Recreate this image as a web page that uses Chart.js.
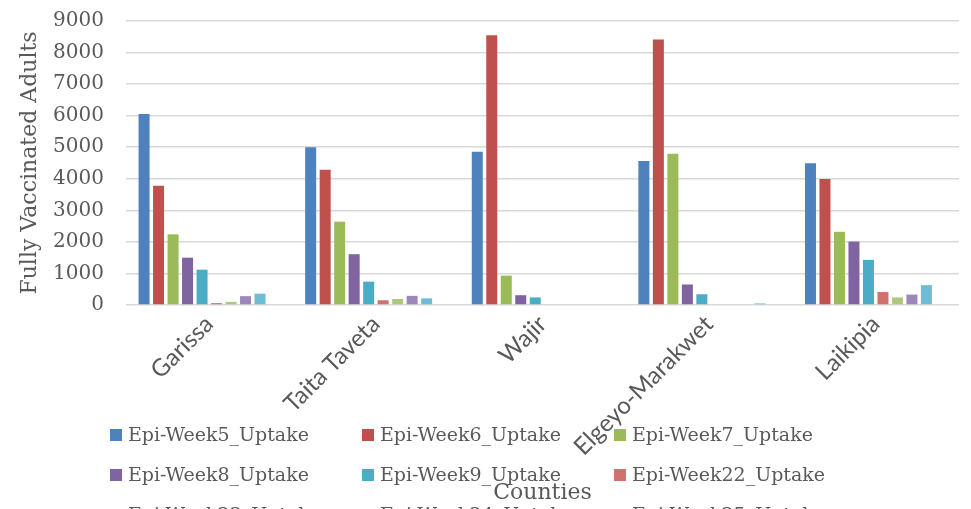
<!DOCTYPE html>
<html>
<head>
<meta charset="utf-8">
<script src="https://cdn.jsdelivr.net/npm/chart.js@4.4.1/dist/chart.umd.min.js"></script>
<style>
  html, body { margin: 0; padding: 0; background: #fff; }
  #wrap { width: 971px; height: 509px; }
</style>
</head>
<body>
<div id="wrap"><canvas id="chart" width="971" height="509"></canvas></div>
<script>
const counties = ["Garissa", "Taita Taveta", "Wajir", "Elgeyo-Marakwet", "Laikipia"];

const week5 = [6050, 5000, 4860, 4560, 4490];
const week6 = [3780, 4290, 8550, 8410, 3990];
const week7 = [2240, 2640, 930, 4790, 2320];
const week8 = [1500, 1610, 310, 650, 2010];
const week9 = [1120, 740, 240, 340, 1430];
const week22 = [60, 150, 0, 0, 410];
const week23 = [100, 190, 0, 0, 240];
const week24 = [280, 290, 0, 0, 330];
const week25 = [360, 210, 0, 50, 630];
const week26 = [0, 0, 0, 0, 0];

const yTicks = [0, 1000, 2000, 3000, 4000, 5000, 6000, 7000, 8000, 9000];

const seriesNames = [
  "Epi-Week5_Uptake", "Epi-Week6_Uptake", "Epi-Week7_Uptake",
  "Epi-Week8_Uptake", "Epi-Week9_Uptake", "Epi-Week22_Uptake",
  "Epi-Week23_Uptake", "Epi-Week24_Uptake", "Epi-Week25_Uptake",
  "Epi-Week26_Uptake",
];
const seriesData = [week5, week6, week7, week8, week9, week22, week23, week24, week25, week26];
const seriesColors = [
  "#4f81bd", "#c0504d", "#9bbb59", "#8064a2", "#4bacc6",
  "#cf716e", "#afc97b", "#9c87b9", "#6fbdd4", "#f79646",
];

const textColor = "#595959";
const serif = "'DejaVu Serif', serif";

// Excel-style legend in a fixed 3-column grid, drawn over the chart
const gridLegend = {
  id: "gridLegend",
  afterDraw(chart) {
    const ctx = chart.ctx;
    ctx.save();
    ctx.font = `19px ${serif}`;
    ctx.textBaseline = "middle";
    chart.data.datasets.forEach((ds, i) => {
      const col = i % 3;
      const row = Math.floor(i / 3);
      const x = 110 + col * 252;
      const y = 435 + row * 40;
      ctx.fillStyle = ds.backgroundColor;
      ctx.fillRect(x, y - 6, 12, 12);
      ctx.fillStyle = textColor;
      ctx.fillText(ds.label, x + 18, y + 1);
    });
    ctx.restore();
  },
};

new Chart(document.getElementById("chart").getContext("2d"), {
  type: "bar",
  data: {
    labels: counties,
    datasets: seriesNames.map((name, i) => ({
      label: name,
      data: seriesData[i],
      backgroundColor: seriesColors[i],
      categoryPercentage: 0.87,
      barPercentage: 0.76,
    })),
  },
  options: {
    responsive: false,
    animation: false,
    devicePixelRatio: 1,
    layout: { padding: { top: 0, right: 12, left: 0, bottom: 0 } },
    plugins: {
      legend: { display: false },
      tooltip: { enabled: false },
    },
    scales: {
      x: {
        grid: { display: false, drawTicks: false },
        border: { display: false },
        ticks: {
          color: textColor,
          font: { family: "Lato", size: 24 },
          maxRotation: 45,
          minRotation: 45,
          padding: 5,
        },
        title: {
          display: true,
          text: "Counties",
          color: textColor,
          font: { family: serif, size: 22 },
          padding: { top: 0, bottom: 3 },
        },
        afterFit: (scale) => { scale.height = 204; },
      },
      y: {
        min: 0,
        max: 9000,
        afterBuildTicks: (scale) => { scale.ticks = yTicks.map((v) => ({ value: v })); },
        grid: { color: "#d9d9d9", lineWidth: 1.5, drawTicks: false },
        border: { display: false },
        ticks: {
          color: textColor,
          font: { family: serif, size: 20 },
          padding: 22,
          callback: (v) => String(v),
        },
        title: {
          display: true,
          text: "Fully Vaccinated Adults",
          color: textColor,
          font: { family: serif, size: 22 },
          padding: { top: 17, bottom: 0 },
        },
        afterFit: (scale) => {
          scale.width = 126;
          scale.paddingTop = 21;
          scale.paddingBottom = 0;
        },
      },
    },
  },
  plugins: [gridLegend],
});
</script>
</body>
</html>
